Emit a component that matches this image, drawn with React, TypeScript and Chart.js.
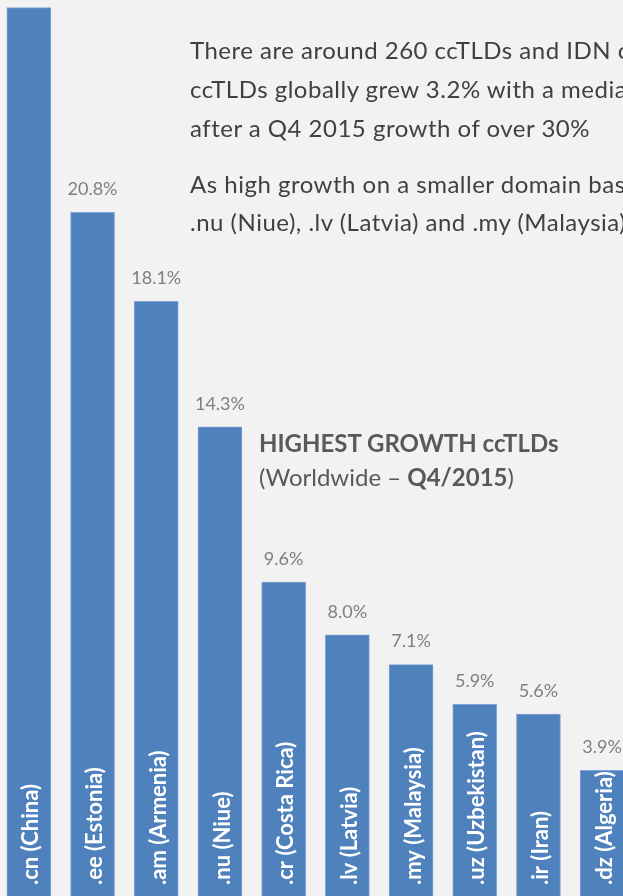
import React, { useEffect, useRef } from "react";
import { Chart, registerables } from "chart.js";

Chart.register(...registerables);

const categories = [
  ".cn (China)",
  ".ee (Estonia)",
  ".am (Armenia)",
  ".nu (Niue)",
  ".cr (Costa Rica)",
  ".lv (Latvia)",
  ".my (Malaysia)",
  ".uz (Uzbekistan)",
  ".ir (Iran)",
  ".dz (Algeria)",
];
const growth = [27.0, 20.8, 18.1, 14.3, 9.6, 8.0, 7.1, 5.9, 5.6, 3.9];
const valueLabels = ["27.0%", "20.8%", "18.1%", "14.3%", "9.6%", "8.0%", "7.1%", "5.9%", "5.6%", "3.9%"];

const paragraph1 = [
  "There are around 260 ccTLDs and IDN ccTLDs in the world.",
  "ccTLDs globally grew 3.2% with a median growth of 0.9%",
  "after a Q4 2015 growth of over 30%",
];
const paragraph2 = [
  "As high growth on a smaller domain base, .ee (Estonia), .am (Armenia),",
  ".nu (Niue), .lv (Latvia) and .my (Malaysia) followed.",
];

const BAR_BLUE = "#4f81bd";

const labelPlugin = {
  id: "barLabels",
  afterDatasetsDraw(chart: any) {
    const ctx = chart.ctx;
    const meta = chart.getDatasetMeta(0);
    meta.data.forEach((bar: any, i: number) => {
      ctx.save();
      ctx.font = "18px Lato";
      ctx.fillStyle = "#7f7f7f";
      ctx.textAlign = "center";
      ctx.textBaseline = "middle";
      ctx.fillText(valueLabels[i], bar.x, bar.y - 23);
      ctx.restore();

      ctx.save();
      ctx.translate(bar.x + 2.5, 885);
      ctx.rotate(-Math.PI / 2);
      ctx.font = "bold 22px Lato";
      ctx.fillStyle = "#ffffff";
      ctx.textAlign = "left";
      ctx.textBaseline = "middle";
      ctx.fillText(categories[i], 0, 0);
      ctx.restore();
    });
  },
};

export default function App() {
  const canvasRef = useRef<HTMLCanvasElement>(null);

  useEffect(() => {
    if (!canvasRef.current) return;
    const chart = new Chart(canvasRef.current, {
      type: "bar",
      data: {
        labels: categories,
        datasets: [
          {
            data: growth,
            backgroundColor: BAR_BLUE,
            borderColor: "#7fa3d4",
            borderWidth: 1,
            barThickness: 44,
          },
        ],
      },
      options: {
        responsive: false,
        animation: false,
        devicePixelRatio: 1,
        layout: { padding: 0 },
        plugins: { legend: { display: false }, tooltip: { enabled: false } },
        scales: {
          x: { display: false, offset: true, grid: { display: false } },
          y: { display: false, min: 0, max: 27.23, grid: { display: false } },
        },
      },
      plugins: [labelPlugin],
    });
    return () => chart.destroy();
  }, []);

  const textStyle: React.CSSProperties = {
    position: "absolute",
    left: 190,
    fontFamily: "Lato",
    fontSize: 24,
    letterSpacing: "0.5px",
    color: "#404040",
    whiteSpace: "nowrap",
  };

  return (
    <div
      style={{
        position: "absolute",
        left: 0,
        top: 0,
        width: 623,
        height: 896,
        overflow: "hidden",
        background: "#f2f2f2",
      }}
    >
      <canvas
        ref={canvasRef}
        width={637}
        height={899}
        style={{ position: "absolute", left: -3, top: 0, width: 637, height: 899 }}
      />
      <div style={{ ...textStyle, top: 31.4, lineHeight: "38.6px" }}>
        {paragraph1.map((t, i) => (
          <div key={i}>{t}</div>
        ))}
      </div>
      <div style={{ ...textStyle, top: 165.2, lineHeight: "37.7px" }}>
        {paragraph2.map((t, i) => (
          <div key={i}>{t}</div>
        ))}
      </div>
      <div
        style={{
          position: "absolute",
          left: 259,
          top: 425.7,
          fontFamily: "Lato",
          fontSize: 24,
          lineHeight: "34.7px",
          color: "#595959",
          whiteSpace: "nowrap",
        }}
      >
        <div style={{ fontWeight: "bold" }}>HIGHEST GROWTH ccTLDs</div>
        <div>
          (Worldwide – <b>Q4/2015</b>)
        </div>
      </div>
    </div>
  );
}
